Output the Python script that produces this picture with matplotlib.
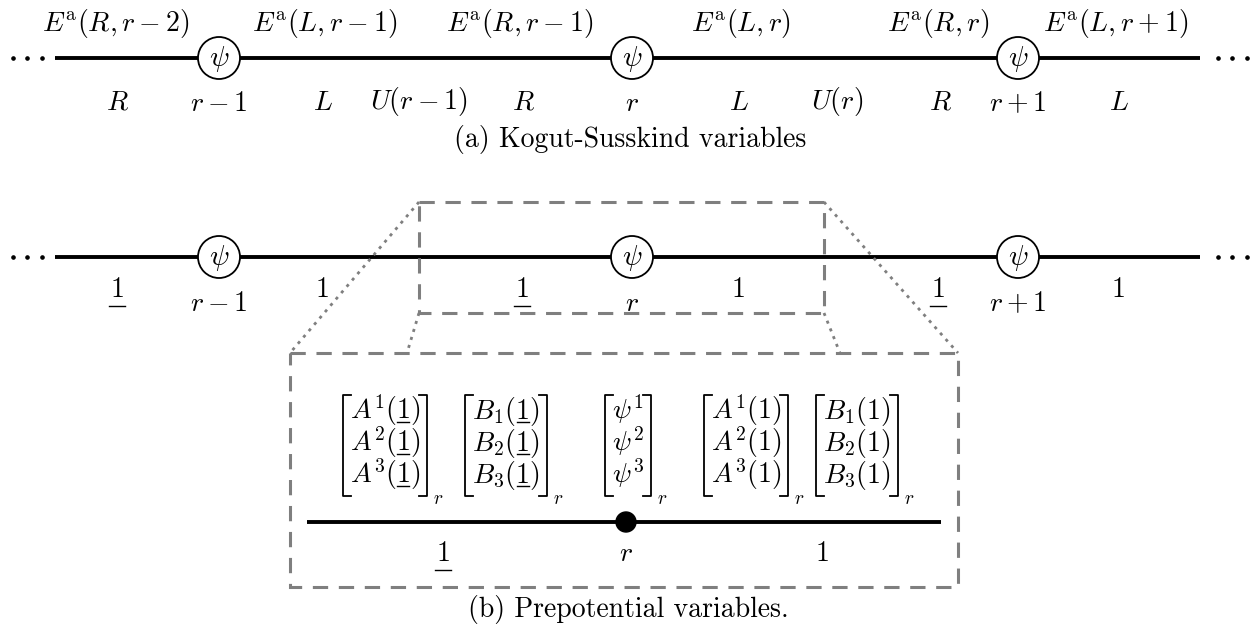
import numpy as np
import matplotlib
matplotlib.use('Agg')
import matplotlib.pyplot as plt
from matplotlib.patches import Circle, Rectangle

plt.rcParams['mathtext.fontset'] = 'cm'

# ---- diagram content ----
site_x = [219, 632, 1018]
site_names = [r'r-1', r'r', r'r+1']

# (a) Kogut-Susskind
ks_top_x = [116, 325, 520, 741, 938, 1116]
ks_top = [r'E^{\rm a}(R,r-2)', r'E^{\rm a}(L,r-1)', r'E^{\rm a}(R,r-1)',
          r'E^{\rm a}(L,r)', r'E^{\rm a}(R,r)', r'E^{\rm a}(L,r+1)']
ks_bot_x = [117, 323, 419, 523, 739, 837, 940, 1119]
ks_bot = [r'R', r'L', r'U(r-1)', r'R', r'L', r'U(r)', r'R', r'L']

# (b) prepotential; "_1" means an underlined 1
pp_x = [117, 322, 522, 738, 938, 1118]
pp_lab = ['_1', '1', '_1', '1', '_1', '1']

mat_x = [385, 506, 628, 746, 857]
mat_rows = [
    [r'A^1(_1)', r'A^2(_1)', r'A^3(_1)'],
    [r'B_1(_1)', r'B_2(_1)', r'B_3(_1)'],
    [r'\psi^1', r'\psi^2', r'\psi^3'],
    [r'A^1(1)', r'A^2(1)', r'A^3(1)'],
    [r'B_1(1)', r'B_2(1)', r'B_3(1)'],
]
zoom_lab_x = [443, 626, 822]
zoom_lab = ['_1', 'r', '1']

FS = 20
GRAY = '#7f7f7f'

fig = plt.figure(figsize=(12.6, 6.33), dpi=100)
ax = fig.add_axes([0, 0, 1, 1])
ax.set_xlim(0, 1260)
ax.set_ylim(633, 0)
ax.axis('off')
renderer = fig.canvas.get_renderer()
inv = ax.transData.inverted()


def extent(t):
    bb = t.get_window_extent(renderer)
    (a0, b0), (a1, b1) = inv.transform([[bb.x0, bb.y0], [bb.x1, bb.y1]])
    return a0, a1, min(b0, b1), max(b0, b1)


def width(s, fs):
    t = ax.text(0, 0, '$' + s + '$', fontsize=fs)
    a0, a1, _, _ = extent(t)
    t.remove()
    return a1 - a0


W_CLOSE = width(')', FS)
W_ONE_CLOSE = width('1)', FS)


def put(x, y, s, fs=FS, va='center'):
    ul = '_1' in s.replace('B_1', '')
    txt = s.replace('(_1)', '(1)') if s != '_1' else '1'
    t = ax.text(x, y, '$' + txt + '$', fontsize=fs, ha='center', va=va)
    if ul:
        a0, a1, b0, b1 = extent(t)
        if txt == '1':
            ax.plot([a0 - 1, a1 + 1], [b1 + 3, b1 + 3], color='black', lw=1.0)
        else:
            ax.plot([a1 - W_ONE_CLOSE + 1, a1 - W_CLOSE - 1], [y + 3, y + 3],
                    color='black', lw=1.0)
    return t


def chain(y):
    ax.plot([55, 1200], [y, y], color='black', lw=2.8, solid_capstyle='butt', zorder=2)
    ax.plot([13, 27, 42], [y] * 3, 'o', color='black', ms=2.3)
    ax.plot([1218, 1232, 1247], [y] * 3, 'o', color='black', ms=2.3)
    for x in site_x:
        ax.add_patch(Circle((x, y), 21, facecolor='white', edgecolor='black', lw=1.3, zorder=3))
        ax.text(x, y + 1, r'$\psi$', fontsize=FS + 1, ha='center', va='center', zorder=4)


# ---- (a) ----
y_a = 58
chain(y_a)
for x, s in zip(ks_top_x, ks_top):
    put(x, 24, s)
for x, s in zip(ks_bot_x, ks_bot):
    put(x, 102, s)
for x, s in zip(site_x, site_names):
    put(x, 103, s)
ax.text(630, 139, '(a) Kogut-Susskind variables', fontsize=FS, family='cmr10',
        ha='center', va='center')

# ---- (b) ----
y_b = 257
chain(y_b)
for x, s in zip(pp_x, pp_lab):
    put(x, 289, s)
for x, s in zip(site_x, site_names):
    put(x, 303, s)

# zoom boxes
small = (419, 202, 824, 313)
big = (290, 353, 958, 587)
for (x0, y0, x1, y1) in [small, big]:
    ax.add_patch(Rectangle((x0, y0), x1 - x0, y1 - y0, fill=False, edgecolor=GRAY,
                           lw=2.2, linestyle=(0, (5, 3.5)), zorder=5))
dot = dict(color=GRAY, lw=2, ls=(0, (1.1, 1.9)), zorder=5)
ax.plot([small[0], big[0]], [small[1], big[1]], **dot)
ax.plot([small[0], 407], [small[3], big[1]], **dot)
ax.plot([small[2], big[2]], [small[1], big[1]], **dot)
ax.plot([small[2], 840], [small[3], big[1]], **dot)

# matrices
row_base = [419, 451, 483]
br_top, br_bot = 395, 496
for cx, rows in zip(mat_x, mat_rows):
    xs = []
    for ry, s in zip(row_base, rows):
        t = put(cx, ry, s, va='baseline')
        a0, a1, _, _ = extent(t)
        xs += [a0, a1]
    xl, xr = min(xs) - 7, max(xs) + 7
    ax.plot([xl + 8, xl, xl, xl + 8], [br_top, br_top, br_bot, br_bot], color='black', lw=1.3)
    ax.plot([xr - 8, xr, xr, xr - 8], [br_top, br_top, br_bot, br_bot], color='black', lw=1.3)
    ax.text(xr + 6, br_bot + 3, r'$r$', fontsize=14, ha='left', va='center')

y_z = 522
ax.plot([307, 941], [y_z, y_z], color='black', lw=2.8, solid_capstyle='butt')
ax.add_patch(Circle((626, y_z), 10, color='black', zorder=4))
for x, s in zip(zoom_lab_x, zoom_lab):
    put(x, 553, s)

ax.text(628, 609, '(b) Prepotential variables.', fontsize=FS, family='cmr10',
        ha='center', va='center')

fig.savefig('out.png', dpi=100, facecolor='white')
